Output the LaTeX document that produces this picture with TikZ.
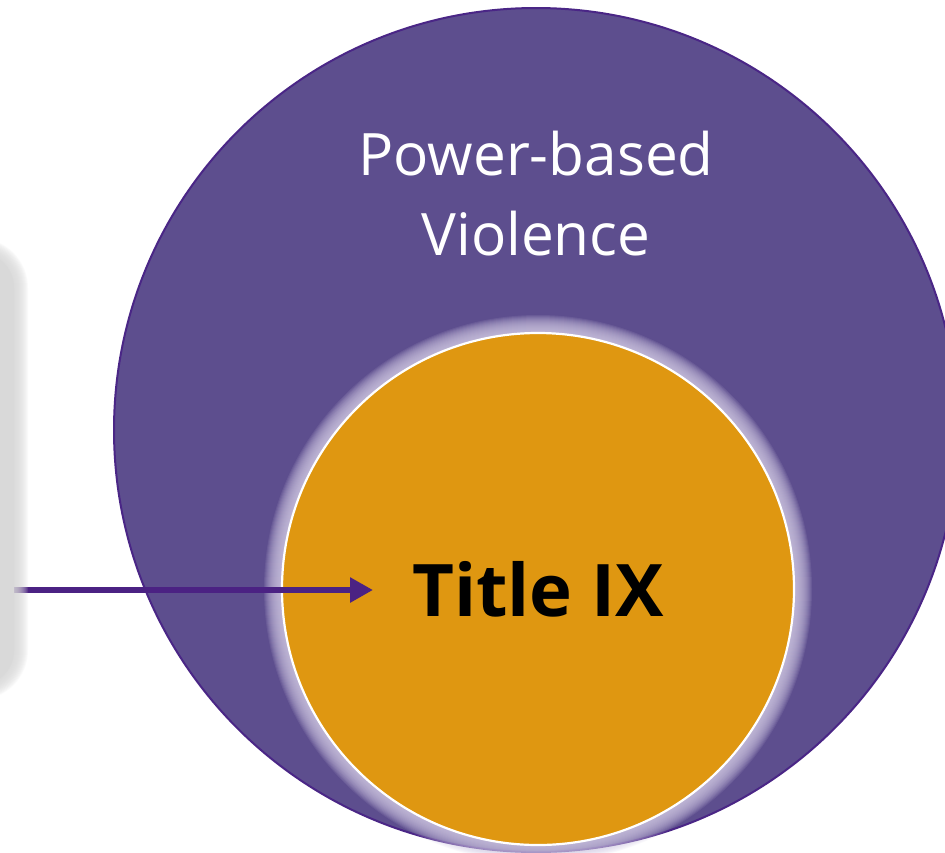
\documentclass[tikz,border=0pt]{standalone}
\usepackage{fontspec}
\setmainfont{Open Sans}
\usetikzlibrary{arrows.meta}
\definecolor{pbvfill}{HTML}{5D4E8E}
\definecolor{pbvline}{HTML}{4A2686}
\definecolor{tixfill}{HTML}{DF9711}
\definecolor{glowc}{HTML}{CEC6E2}
\definecolor{boxgray}{HTML}{D9D9D9}
\definecolor{arrowc}{HTML}{4B2283}
\tikzset{
  outercircle/.style={circle, inner sep=0pt, minimum size=844pt, fill=pbvfill, draw=pbvline, line width=2pt},
  innercircle/.style={circle, inner sep=0pt, minimum size=512pt, fill=tixfill, draw=white, line width=2.2pt},
  outerlabel/.style={text=white, font=\fontsize{58.5}{70}\selectfont, anchor=base, inner sep=0pt},
  innerlabel/.style={text=black, font=\bfseries\fontsize{72.5}{90}\selectfont, anchor=base, inner sep=0pt},
  pointer/.style={draw=arrowc, line width=6.5pt, -{Triangle[length=23pt, width=24pt]}},
}
\begin{document}
\begin{tikzpicture}[x=1pt,y=-1pt]
\useasboundingbox (0,0) rectangle (945,852);
\fill[white] (0,0) rectangle (945,852);
\clip (0,0) rectangle (945,852);
% outer circle
\node[outercircle] (pbv) at (536,430) {};
% glow around inner circle
\coordinate (tixc) at (538,589);
\foreach \i in {1,...,18}{
  \fill[glowc, opacity=0.11] (tixc) circle ({256+\i});
}
\node[innercircle] (tix) at (tixc) {};
% labels
\node[outerlabel] (pbvA) at (536,175) {Power-based};
\node[outerlabel] (pbvB) at (536,255) {Violence};
\node[innerlabel] (tixlabel) at (538,616) {Title IX};
% arrow
\coordinate (astart) at (0,590);
\coordinate (atip) at (373,590);
\draw[pointer] (astart) -- (atip);
% gray box with soft shadow
\foreach \i in {1,...,14}{
  \pgfmathsetmacro\rr{36+\i}
  \fill[boxgray, opacity=0.12, rounded corners=\rr pt] ({-80-\i},{252-\i}) rectangle ({14+\i},{686+\i});
}
\fill[boxgray, rounded corners=36pt] (-80,252) rectangle (14,686);
\end{tikzpicture}
\end{document}
